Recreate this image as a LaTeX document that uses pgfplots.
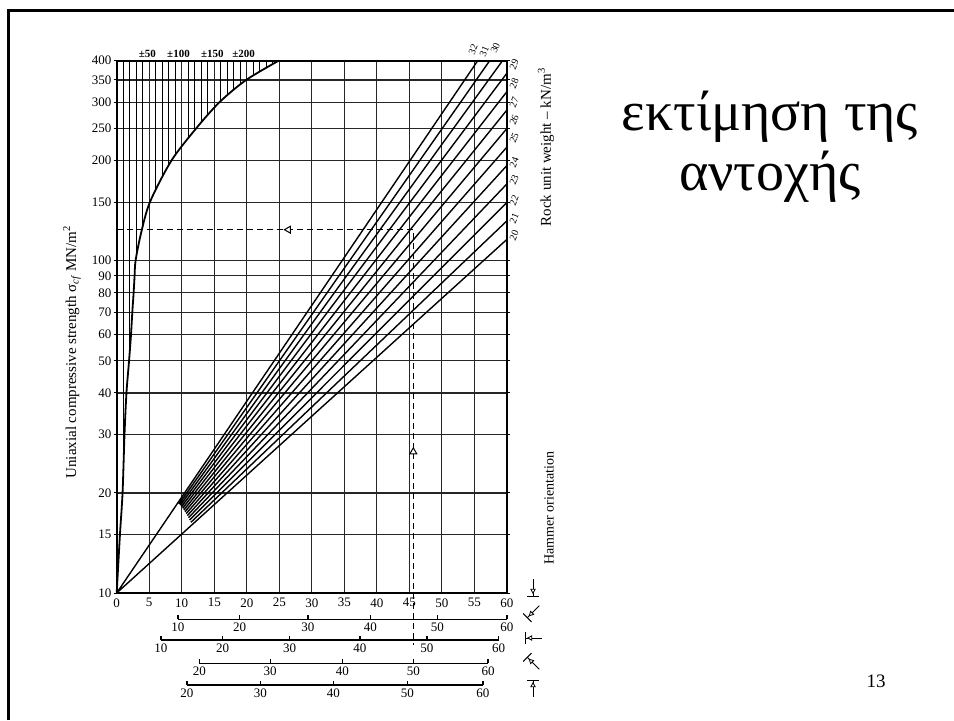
\documentclass[border=0pt]{standalone}
\usepackage{fontspec}
\setmainfont{Liberation Serif}
\usepackage{pgfplots}
\pgfplotsset{compat=1.18}
\begin{document}
\begin{tikzpicture}
\useasboundingbox (0,0) rectangle (477pt,360pt);
\draw[line width=1.4pt] (4.15pt,0) -- (4.15pt,354.85pt) -- (477pt,354.85pt);
\begin{axis}[
  at={(58.35pt,63.5pt)}, anchor=south west,
  scale only axis, width=195.15pt, height=266.15pt,
  xmin=0, xmax=60, ymode=log, ymin=10, ymax=400,
  clip=false,
  axis line style={line width=0.9pt},
  xtick={0,5,...,60},
  ytick={10,15,20,30,40,50,60,70,80,90,100,150,200,250,300,350,400},
  yticklabels={10,15,20,30,40,50,60,70,80,90,100,150,200,250,300,350,400},
  yminorticks=false, xminorticks=false,
  grid=major, major grid style={line width=0.55pt, black!85},
  xtick style={draw=none},
  ytick style={line width=0.5pt, black},
  tick align=outside, major tick length=1.5pt,
  ticklabel style={font=\fontsize{6.5}{7}\selectfont},
  xticklabel style={inner sep=1pt},
  yticklabel style={inner sep=1pt},
  /pgf/number format/assume math mode=true,
]
% envelope curve
\addplot[black, line width=0.9pt, smooth, tension=0.5] coordinates {(0,10)(0.5,15)(0.9,20)(1.2,30)(1.5,40)(1.9,50)(2.2,60)(2.4,70)(2.6,80)(2.75,90)(2.9,100)(3.7,120)(5.1,150)(8.4,200)(12.2,250)(15.8,300)(19.9,350)(24.9,400)};
% hatching above the curve
\addplot[black, line width=0.4pt, unbounded coords=jump] coordinates {
(1,23.3)(1,400)(1,nan)
(2,53.3)(2,400)(2,nan)
(3,102.5)(3,400)(3,nan)
(4,126.4)(4,400)(4,nan)
(6,163.6)(6,400)(6,nan)
(7,178.8)(7,400)(7,nan)
(8,193.9)(8,400)(8,nan)
(9,207.9)(9,400)(9,nan)
(11,234.2)(11,400)(11,nan)
(12,247.4)(12,400)(12,nan)
(13,261.1)(13,400)(13,nan)
(14,275)(14,400)(14,nan)
(16,302.4)(16,400)(16,nan)
(17,314.6)(17,400)(17,nan)
(18,326.8)(18,400)(18,nan)
(19,339)(19,400)(19,nan)
(21,361)(21,400)(21,nan)
(22,371)(22,400)(22,nan)
(23,381)(23,400)(23,nan)
(24,391)(24,400)
};
% unit weight lines 20..32 kN/m3
\addplot[black, line width=0.7pt, unbounded coords=jump] coordinates {
(0,10)(60,116.0)(60,nan)
(11.4,16.32)(60,131.9)(60,nan)
(11.22,16.59)(60,149.9)(60,nan)
(11.04,16.85)(60,170.4)(60,nan)
(10.86,17.10)(60,193.6)(60,nan)
(10.68,17.34)(60,220.0)(60,nan)
(10.5,17.57)(60,250.2)(60,nan)
(10.32,17.78)(60,284.4)(60,nan)
(10.14,17.99)(60,323.1)(60,nan)
(9.96,18.19)(60,367.3)(60,nan)
(9.78,18.37)(59.31,400)(59.31,nan)
(9.6,18.54)(57.34,400)(57.34,nan)
(0,10)(55.5,400)
};
% dashed example
\addplot[black, line width=0.6pt, dash pattern=on 3pt off 2pt] coordinates {(0,124)(45.6,124)(45.6,6.97)};
\addplot[only marks, mark=triangle*, mark size=2pt, mark options={solid, fill=white, draw=black, line width=0.5pt, rotate=90}] coordinates {(26.4,124)};
\addplot[only marks, mark=triangle*, mark size=2pt, mark options={solid, fill=white, draw=black, line width=0.5pt}] coordinates {(45.6,26.6)};
% hammer orientation scales
\addplot[black, line width=0.7pt, unbounded coords=jump] coordinates {
(9.4,8.334)(60,8.334)(60,nan)
(9.4,8.334)(9.4,8.597)(9.4,nan)
(18.9,8.334)(18.9,8.597)(18.9,nan)
(29.4,8.334)(29.4,8.597)(29.4,nan)
(39.0,8.334)(39.0,8.597)(39.0,nan)
(49.3,8.334)(49.3,8.597)(49.3,nan)
(60,8.334)(60,8.597)
};
\addplot[black, line width=0.7pt, unbounded coords=jump] coordinates {
(6.8,7.218)(58.7,7.218)(58.7,nan)
(6.8,7.218)(6.8,7.447)(6.8,nan)
(16.3,7.218)(16.3,7.447)(16.3,nan)
(26.6,7.218)(26.6,7.447)(26.6,nan)
(37.4,7.218)(37.4,7.447)(37.4,nan)
(47.7,7.218)(47.7,7.447)(47.7,nan)
(58.7,7.218)(58.7,7.447)
};
\addplot[black, line width=0.7pt, unbounded coords=jump] coordinates {
(12.7,6.142)(57.1,6.142)(57.1,nan)
(12.7,6.142)(12.7,6.336)(12.7,nan)
(23.6,6.142)(23.6,6.336)(23.6,nan)
(34.7,6.142)(34.7,6.336)(34.7,nan)
(45.6,6.142)(45.6,6.336)(45.6,nan)
(57.1,6.142)(57.1,6.336)
};
\addplot[black, line width=0.7pt, unbounded coords=jump] coordinates {
(10.8,5.283)(56.3,5.283)(56.3,nan)
(10.8,5.283)(10.8,5.450)(10.8,nan)
(22.1,5.283)(22.1,5.450)(22.1,nan)
(33.3,5.283)(33.3,5.450)(33.3,nan)
(44.7,5.283)(44.7,5.450)(44.7,nan)
(56.3,5.283)(56.3,5.450)
};
% scale labels
\begin{scope}[every node/.style={font=\fontsize{6.5}{7}\selectfont, anchor=north, inner sep=1pt}]
\node at (axis cs:9.4,8.25) {10};
\node at (axis cs:18.9,8.25) {20};
\node at (axis cs:29.4,8.25) {30};
\node at (axis cs:39.0,8.25) {40};
\node at (axis cs:49.3,8.25) {50};
\node at (axis cs:60,8.25) {60};
\node at (axis cs:6.8,7.15) {10};
\node at (axis cs:16.3,7.15) {20};
\node at (axis cs:26.6,7.15) {30};
\node at (axis cs:37.4,7.15) {40};
\node at (axis cs:47.7,7.15) {50};
\node at (axis cs:58.7,7.15) {60};
\node at (axis cs:12.7,6.08) {20};
\node at (axis cs:23.6,6.08) {30};
\node at (axis cs:34.7,6.08) {40};
\node at (axis cs:45.6,6.08) {50};
\node at (axis cs:57.1,6.08) {60};
\node at (axis cs:10.8,5.23) {20};
\node at (axis cs:22.1,5.23) {30};
\node at (axis cs:33.3,5.23) {40};
\node at (axis cs:44.7,5.23) {50};
\node at (axis cs:56.3,5.23) {60};
\end{scope}
% dispersion labels
\begin{scope}[every node/.style={font=\fontsize{5.5}{6}\selectfont\bfseries, anchor=south, inner sep=0.5pt}]
\node at (axis cs:4.7,404) {±50};
\node at (axis cs:9.5,404) {±100};
\node at (axis cs:14.7,404) {±150};
\node at (axis cs:19.5,404) {±200};
\end{scope}
% unit weight labels
\begin{scope}[every node/.style={font=\fontsize{5}{5.5}\selectfont, rotate=68, inner sep=0pt}]
\node at (axis cs:61.1,389) {29};
\node at (axis cs:61.1,342) {28};
\node at (axis cs:61.1,300) {27};
\node at (axis cs:61.1,265) {26};
\node at (axis cs:61.1,234) {25};
\node at (axis cs:61.1,198) {24};
\node at (axis cs:61.1,175) {23};
\node at (axis cs:61.1,152) {22};
\node at (axis cs:61.1,134) {21};
\node at (axis cs:61.1,119) {20};
\node at (axis cs:54.8,433) {32};
\node at (axis cs:56.5,426) {31};
\node at (axis cs:58.2,437) {30};
\end{scope}
\end{axis}
% axis titles
\node[rotate=90, font=\fontsize{7.5}{9}\selectfont] at (36pt,184pt) {Uniaxial compressive strength σ\textsubscript{\itshape cf} MN/m\textsuperscript{2}};
\node[rotate=90, font=\fontsize{7.5}{9}\selectfont] at (273pt,286.5pt) {Rock unit weight – kN/m\textsuperscript{3}};
\node[rotate=90, font=\fontsize{7}{8}\selectfont] at (274.5pt,106pt) {Hammer orientation};
% hammer orientation symbols
\foreach \yy/\rr in {66/0, 54/-45, 41/-90, 28.5/-135, 16/180} {
  \begin{scope}[shift={(266.5pt,\yy pt)}, rotate=\rr]
    \draw[line width=0.5pt] (-3pt,-4pt) -- (3pt,-4pt);
    \draw[line width=0.5pt] (0,-4pt) -- (0,4.5pt);
    \draw[line width=0.4pt, fill=white] (0,-2.6pt) -- (-1.1pt,-0.6pt) -- (1.1pt,-0.6pt) -- cycle;
  \end{scope}
}
% slide title and page number
\node[font=\fontsize{28}{30}\selectfont, anchor=base] at (385pt,295pt) {εκτίμηση της};
\node[font=\fontsize{28}{30}\selectfont, anchor=base] at (385pt,265pt) {αντοχής};
\node[font=\fontsize{9.5}{11}\selectfont] at (438pt,19.25pt) {13};
\end{tikzpicture}
\end{document}
